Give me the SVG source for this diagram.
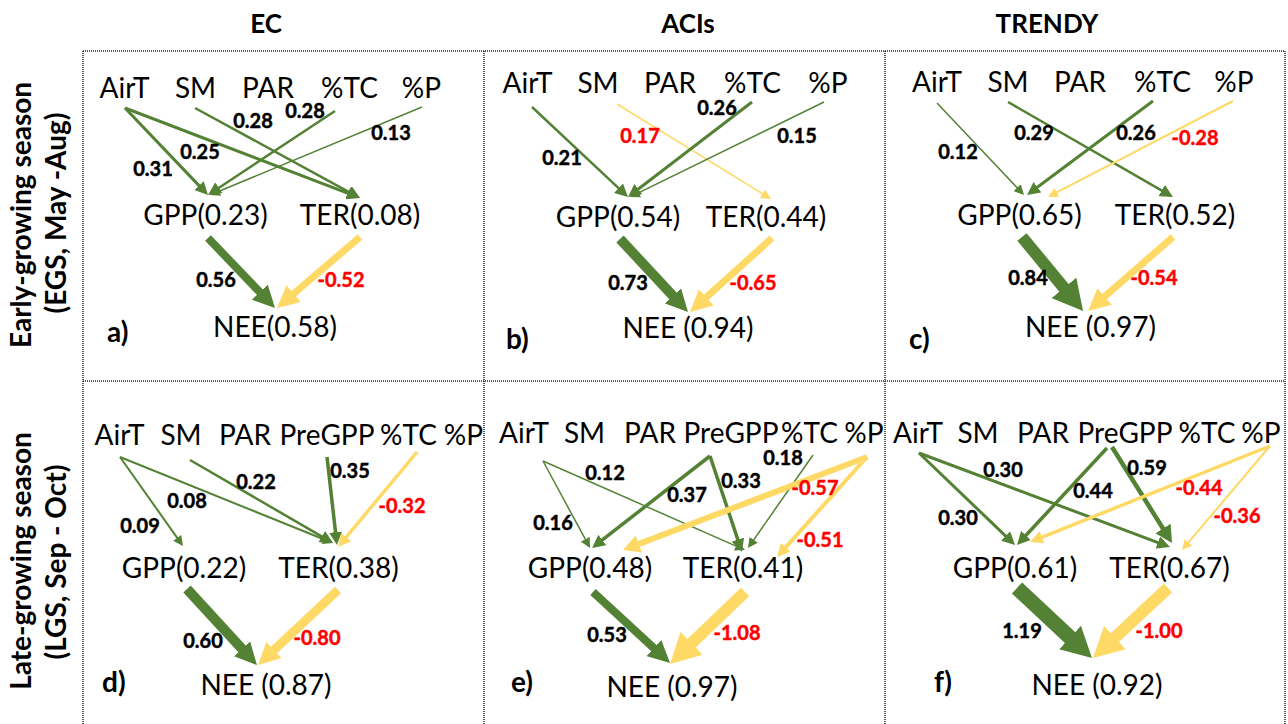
<svg xmlns="http://www.w3.org/2000/svg" width="1288" height="724" viewBox="0 0 1288 724">
<style>
.n{font-family:Lato,"Liberation Sans",sans-serif;font-size:28px;fill:#000;text-anchor:middle}
.v{font-family:Lato,"Liberation Sans",sans-serif;font-size:20px;font-weight:bold;fill:#000;stroke:#000;stroke-width:0.45;text-anchor:middle}
.r{fill:#FF0000;stroke:#FF0000}
.p{font-family:Lato,"Liberation Sans",sans-serif;font-size:28px;font-weight:bold;fill:#000}
.t{font-family:Lato,"Liberation Sans",sans-serif;font-size:26px;font-weight:bold;fill:#000;text-anchor:middle}
.row{font-family:Lato,"Liberation Sans",sans-serif;font-size:28px;font-weight:bold;fill:#000;text-anchor:middle}
.g{stroke:#548235;fill:none}
.y{stroke:#FFD966;fill:none}
.grid{stroke:#222;stroke-width:1.5;stroke-dasharray:1 1;fill:none}
</style>
<defs>
<marker id="gs" markerUnits="userSpaceOnUse" markerWidth="10" markerHeight="10" refX="4" refY="5" orient="auto"><path d="M0,0 L10,5 L0,10 z" fill="#548235"/></marker>
<marker id="gm" markerUnits="userSpaceOnUse" markerWidth="13" markerHeight="13" refX="5.2" refY="6.5" orient="auto"><path d="M0,0 L13,6.5 L0,13 z" fill="#548235"/></marker>
<marker id="gml" markerUnits="userSpaceOnUse" markerWidth="17" markerHeight="18" refX="6.8" refY="9" orient="auto"><path d="M0,0 L17,9 L0,18 z" fill="#548235"/></marker>
<marker id="gl" markerUnits="userSpaceOnUse" markerWidth="22" markerHeight="22" refX="8.8" refY="11" orient="auto"><path d="M0,0 L22,11 L0,22 z" fill="#548235"/></marker>
<marker id="gxl" markerUnits="userSpaceOnUse" markerWidth="30" markerHeight="32" refX="12" refY="16" orient="auto"><path d="M0,0 L30,16 L0,32 z" fill="#548235"/></marker>
<marker id="ys" markerUnits="userSpaceOnUse" markerWidth="10" markerHeight="10" refX="4" refY="5" orient="auto"><path d="M0,0 L10,5 L0,10 z" fill="#FFD966"/></marker>
<marker id="ym" markerUnits="userSpaceOnUse" markerWidth="13" markerHeight="13" refX="5.2" refY="6.5" orient="auto"><path d="M0,0 L13,6.5 L0,13 z" fill="#FFD966"/></marker>
<marker id="yml" markerUnits="userSpaceOnUse" markerWidth="17" markerHeight="18" refX="6.8" refY="9" orient="auto"><path d="M0,0 L17,9 L0,18 z" fill="#FFD966"/></marker>
<marker id="yl" markerUnits="userSpaceOnUse" markerWidth="22" markerHeight="22" refX="8.8" refY="11" orient="auto"><path d="M0,0 L22,11 L0,22 z" fill="#FFD966"/></marker>
<marker id="yxl" markerUnits="userSpaceOnUse" markerWidth="30" markerHeight="32" refX="12" refY="16" orient="auto"><path d="M0,0 L30,16 L0,32 z" fill="#FFD966"/></marker>
</defs>
<rect width="1288" height="724" fill="#fff"/>

<g id="frame">
<path class="grid" d="M83,51 H1285 M83,381 H1285 M83,51 V724 M484,51 V724 M885,51 V724 M1285,51 V724"/>
</g>

<g id="headers">
<text class="t" x="266" y="33">EC</text>
<text class="t" x="688" y="33">ACIs</text>
<text class="t" x="1047" y="33">TRENDY</text>
<text class="row" transform="translate(31,215) rotate(-90)">Early-growing season</text>
<text class="row" transform="translate(66,213) rotate(-90)">(EGS, May -Aug)</text>
<text class="row" transform="translate(31,561) rotate(-90)">Late-growing season</text>
<text class="row" transform="translate(66,562) rotate(-90)">(LGS, Sep - Oct)</text>
</g>

<g id="connectors">
<!-- a -->
<line class="g" stroke-width="3" x1="125" y1="108" x2="202.6" y2="189.4" marker-end="url(#gm)"/>
<line class="g" stroke-width="3" x1="125" y1="108" x2="352.7" y2="195.2" marker-end="url(#gm)"/>
<line class="g" stroke-width="2.5" x1="195" y1="108" x2="353.2" y2="194.3" marker-end="url(#gm)"/>
<line class="g" stroke-width="2.5" x1="335" y1="111" x2="214.5" y2="190.7" marker-end="url(#gm)"/>
<line class="g" stroke-width="1.5" x1="422" y1="107" x2="215.5" y2="192.7" marker-end="url(#gs)"/>
<line class="g" stroke-width="8" x1="208" y1="238" x2="265.9" y2="298.5" marker-end="url(#gl)"/>
<line class="y" stroke-width="7" x1="360" y1="237" x2="287" y2="299.4" marker-end="url(#yl)"/>
<!-- b -->
<line class="g" stroke-width="2.5" x1="532" y1="107" x2="622.3" y2="191.7" marker-end="url(#gm)"/>
<line class="y" stroke-width="1.5" x1="617" y1="104" x2="765.9" y2="195.9" marker-end="url(#ys)"/>
<line class="g" stroke-width="3" x1="752" y1="102" x2="634.2" y2="192.3" marker-end="url(#gm)"/>
<line class="g" stroke-width="1.5" x1="824" y1="102" x2="635.4" y2="194.4" marker-end="url(#gs)"/>
<line class="g" stroke-width="10" x1="620" y1="239" x2="679" y2="302.3" marker-end="url(#gl)"/>
<line class="y" stroke-width="7" x1="772" y1="238" x2="699.8" y2="303.2" marker-end="url(#yl)"/>
<!-- c -->
<line class="g" stroke-width="1.5" x1="937" y1="103" x2="1019.9" y2="190.6" marker-end="url(#gs)"/>
<line class="g" stroke-width="2.5" x1="1008" y1="102" x2="1166.2" y2="193.1" marker-end="url(#gm)"/>
<line class="g" stroke-width="3" x1="1153" y1="101" x2="1033.3" y2="190.3" marker-end="url(#gm)"/>
<line class="y" stroke-width="2" x1="1233" y1="101" x2="1053.3" y2="194.2" marker-end="url(#ys)"/>
<line class="g" stroke-width="12" x1="1022" y1="237" x2="1071.6" y2="297.1" marker-end="url(#gxl)"/>
<line class="y" stroke-width="7" x1="1173" y1="237" x2="1098" y2="302.3" marker-end="url(#yl)"/>
<!-- d -->
<line class="g" stroke-width="2" x1="120" y1="457" x2="179.5" y2="541.1" marker-end="url(#gs)"/>
<line class="g" stroke-width="2" x1="120" y1="457" x2="327.4" y2="540.8" marker-end="url(#gs)"/>
<line class="g" stroke-width="2.5" x1="190" y1="460" x2="326.3" y2="539.1" marker-end="url(#gm)"/>
<line class="g" stroke-width="3.5" x1="327" y1="457" x2="336.1" y2="537.3" marker-end="url(#gm)"/>
<line class="y" stroke-width="3.5" x1="417" y1="452" x2="343" y2="541" marker-end="url(#ym)"/>
<line class="g" stroke-width="10" x1="187" y1="589" x2="248" y2="655.3" marker-end="url(#gl)"/>
<line class="y" stroke-width="9" x1="338" y1="590" x2="267.6" y2="656" marker-end="url(#yl)"/>
<!-- e -->
<line class="g" stroke-width="1.5" x1="543" y1="461" x2="587.2" y2="542.7" marker-end="url(#gs)"/>
<line class="g" stroke-width="1.5" x1="543" y1="461" x2="739.5" y2="547.6" marker-end="url(#gs)"/>
<line class="g" stroke-width="3.5" x1="710" y1="456" x2="598.2" y2="543.2" marker-end="url(#gm)"/>
<line class="g" stroke-width="3.5" x1="710" y1="456" x2="739.5" y2="544.6" marker-end="url(#gm)"/>
<line class="g" stroke-width="1.5" x1="813" y1="455" x2="751.4" y2="543.1" marker-end="url(#gs)"/>
<line class="y" stroke-width="6" x1="867" y1="457" x2="632.5" y2="546.4" marker-end="url(#yml)"/>
<line class="y" stroke-width="4" x1="867" y1="457" x2="782.2" y2="551.2" marker-end="url(#ym)"/>
<line class="g" stroke-width="8" x1="593" y1="592" x2="660.3" y2="654" marker-end="url(#gl)"/>
<line class="y" stroke-width="12" x1="745" y1="592" x2="683" y2="651.5" marker-end="url(#yxl)"/>
<!-- f -->
<line class="g" stroke-width="3" x1="919" y1="453" x2="1009.4" y2="539.6" marker-end="url(#gm)"/>
<line class="g" stroke-width="3" x1="919" y1="453" x2="1162.7" y2="544.3" marker-end="url(#gm)"/>
<line class="g" stroke-width="3.5" x1="1107" y1="448" x2="1022.3" y2="539.3" marker-end="url(#gm)"/>
<line class="g" stroke-width="4.5" x1="1112" y1="447" x2="1166.6" y2="534.3" marker-end="url(#gml)"/>
<line class="y" stroke-width="3.5" x1="1270" y1="446" x2="1037.2" y2="539.1" marker-end="url(#ym)"/>
<line class="y" stroke-width="2" x1="1270" y1="446" x2="1185.9" y2="545.4" marker-end="url(#ys)"/>
<line class="g" stroke-width="15" x1="1017" y1="588" x2="1078.8" y2="645.7" marker-end="url(#gxl)"/>
<line class="y" stroke-width="12" x1="1168" y1="588" x2="1106.2" y2="645.7" marker-end="url(#yxl)"/>
</g>

<g id="edge-labels">
<text class="v" x="253" y="128">0.28</text>
<text class="v" x="305" y="118">0.28</text>
<text class="v" x="391" y="140">0.13</text>
<text class="v" x="200" y="159">0.25</text>
<text class="v" x="153" y="176">0.31</text>
<text class="v" x="216" y="287">0.56</text>
<text class="v r" x="341" y="287">-0.52</text>

<text class="v" x="717" y="115">0.26</text>
<text class="v r" x="640" y="143">0.17</text>
<text class="v" x="797" y="143">0.15</text>
<text class="v" x="562" y="165">0.21</text>
<text class="v" x="628" y="290">0.73</text>
<text class="v r" x="753" y="290">-0.65</text>

<text class="v" x="958" y="159">0.12</text>
<text class="v" x="1034" y="140">0.29</text>
<text class="v" x="1136" y="140">0.26</text>
<text class="v r" x="1195" y="145">-0.28</text>
<text class="v" x="1028" y="285">0.84</text>
<text class="v r" x="1154" y="285">-0.54</text>

<text class="v" x="140" y="533">0.09</text>
<text class="v" x="187" y="508">0.08</text>
<text class="v" x="256" y="489">0.22</text>
<text class="v" x="350" y="478">0.35</text>
<text class="v r" x="402" y="513">-0.32</text>
<text class="v" x="203" y="648">0.60</text>
<text class="v r" x="317" y="645">-0.80</text>

<text class="v" x="553" y="530">0.16</text>
<text class="v" x="605" y="480">0.12</text>
<text class="v" x="687" y="502">0.37</text>
<text class="v" x="741" y="488">0.33</text>
<text class="v" x="783" y="465">0.18</text>
<text class="v r" x="815" y="495">-0.57</text>
<text class="v r" x="820" y="547">-0.51</text>
<text class="v" x="607" y="642">0.53</text>
<text class="v r" x="737" y="640">-1.08</text>

<text class="v" x="958" y="525">0.30</text>
<text class="v" x="1003" y="477">0.30</text>
<text class="v" x="1093" y="498">0.44</text>
<text class="v" x="1147" y="475">0.59</text>
<text class="v r" x="1199" y="495">-0.44</text>
<text class="v r" x="1237" y="523">-0.36</text>
<text class="v" x="1022" y="638">1.19</text>
<text class="v r" x="1159" y="638">-1.00</text>
</g>

<g id="panel-a">
<g id="a-AirT"><text class="n" x="124.5" y="98">AirT</text></g>
<g id="a-SM"><text class="n" x="195.5" y="98">SM</text></g>
<g id="a-PAR"><text class="n" x="268" y="98">PAR</text></g>
<g id="a-TC"><text class="n" x="349.5" y="98">%TC</text></g>
<g id="a-P"><text class="n" x="421.5" y="98">%P</text></g>
<g id="a-GPP"><text class="n" x="205.5" y="225">GPP(0.23)</text></g>
<g id="a-TER"><text class="n" x="360" y="225">TER(0.08)</text></g>
<g id="a-NEE"><text class="n" x="275" y="337">NEE(0.58)</text></g>
<text class="p" x="107" y="342">a)</text>
</g>

<g id="panel-b">
<g id="b-AirT"><text class="n" x="527.5" y="93">AirT</text></g>
<g id="b-SM"><text class="n" x="598" y="93">SM</text></g>
<g id="b-PAR"><text class="n" x="670" y="93">PAR</text></g>
<g id="b-TC"><text class="n" x="752.5" y="93">%TC</text></g>
<g id="b-P"><text class="n" x="828" y="93">%P</text></g>
<g id="b-GPP"><text class="n" x="618" y="227">GPP(0.54)</text></g>
<g id="b-TER"><text class="n" x="766" y="227">TER(0.44)</text></g>
<g id="b-NEE"><text class="n" x="688" y="338">NEE (0.94)</text></g>
<text class="p" x="506" y="349">b)</text>
</g>

<g id="panel-c">
<g id="c-AirT"><text class="n" x="937" y="92">AirT</text></g>
<g id="c-SM"><text class="n" x="1008" y="92">SM</text></g>
<g id="c-PAR"><text class="n" x="1080" y="92">PAR</text></g>
<g id="c-TC"><text class="n" x="1162.5" y="92">%TC</text></g>
<g id="c-P"><text class="n" x="1234" y="92">%P</text></g>
<g id="c-GPP"><text class="n" x="1019.5" y="225">GPP(0.65)</text></g>
<g id="c-TER"><text class="n" x="1175" y="225">TER(0.52)</text></g>
<g id="c-NEE"><text class="n" x="1090.5" y="337">NEE (0.97)</text></g>
<text class="p" x="909" y="349">c)</text>
</g>

<g id="panel-d">
<g id="d-AirT"><text class="n" x="119.5" y="445">AirT</text></g>
<g id="d-SM"><text class="n" x="181" y="445">SM</text></g>
<g id="d-PAR"><text class="n" x="245" y="445">PAR</text></g>
<g id="d-PreGPP"><text class="n" x="327" y="445">PreGPP</text></g>
<g id="d-TC"><text class="n" x="408.5" y="445">%TC</text></g>
<g id="d-P"><text class="n" x="463.5" y="445">%P</text></g>
<g id="d-GPP"><text class="n" x="184" y="578">GPP(0.22)</text></g>
<g id="d-TER"><text class="n" x="338.5" y="578">TER(0.38)</text></g>
<g id="d-NEE"><text class="n" x="266" y="695">NEE (0.87)</text></g>
<text class="p" x="102" y="692">d)</text>
</g>

<g id="panel-e">
<g id="e-AirT"><text class="n" x="524" y="443">AirT</text></g>
<g id="e-SM"><text class="n" x="584.5" y="443">SM</text></g>
<g id="e-PAR"><text class="n" x="650" y="443">PAR</text></g>
<g id="e-PreGPP"><text class="n" x="731" y="443">PreGPP</text></g>
<g id="e-TC"><text class="n" x="809.5" y="443">%TC</text></g>
<g id="e-P"><text class="n" x="864" y="443">%P</text></g>
<g id="e-GPP"><text class="n" x="590" y="578">GPP(0.48)</text></g>
<g id="e-TER"><text class="n" x="743" y="578">TER(0.41)</text></g>
<g id="e-NEE"><text class="n" x="672" y="697">NEE (0.97)</text></g>
<text class="p" x="511" y="692">e)</text>
</g>

<g id="panel-f">
<g id="f-AirT"><text class="n" x="918" y="443">AirT</text></g>
<g id="f-SM"><text class="n" x="978" y="443">SM</text></g>
<g id="f-PAR"><text class="n" x="1043" y="443">PAR</text></g>
<g id="f-PreGPP"><text class="n" x="1125" y="443">PreGPP</text></g>
<g id="f-TC"><text class="n" x="1207" y="443">%TC</text></g>
<g id="f-P"><text class="n" x="1261" y="443">%P</text></g>
<g id="f-GPP"><text class="n" x="1015" y="578">GPP(0.61)</text></g>
<g id="f-TER"><text class="n" x="1169.5" y="578">TER(0.67)</text></g>
<g id="f-NEE"><text class="n" x="1097" y="695">NEE (0.92)</text></g>
<text class="p" x="934" y="692">f)</text>
</g>
</svg>
